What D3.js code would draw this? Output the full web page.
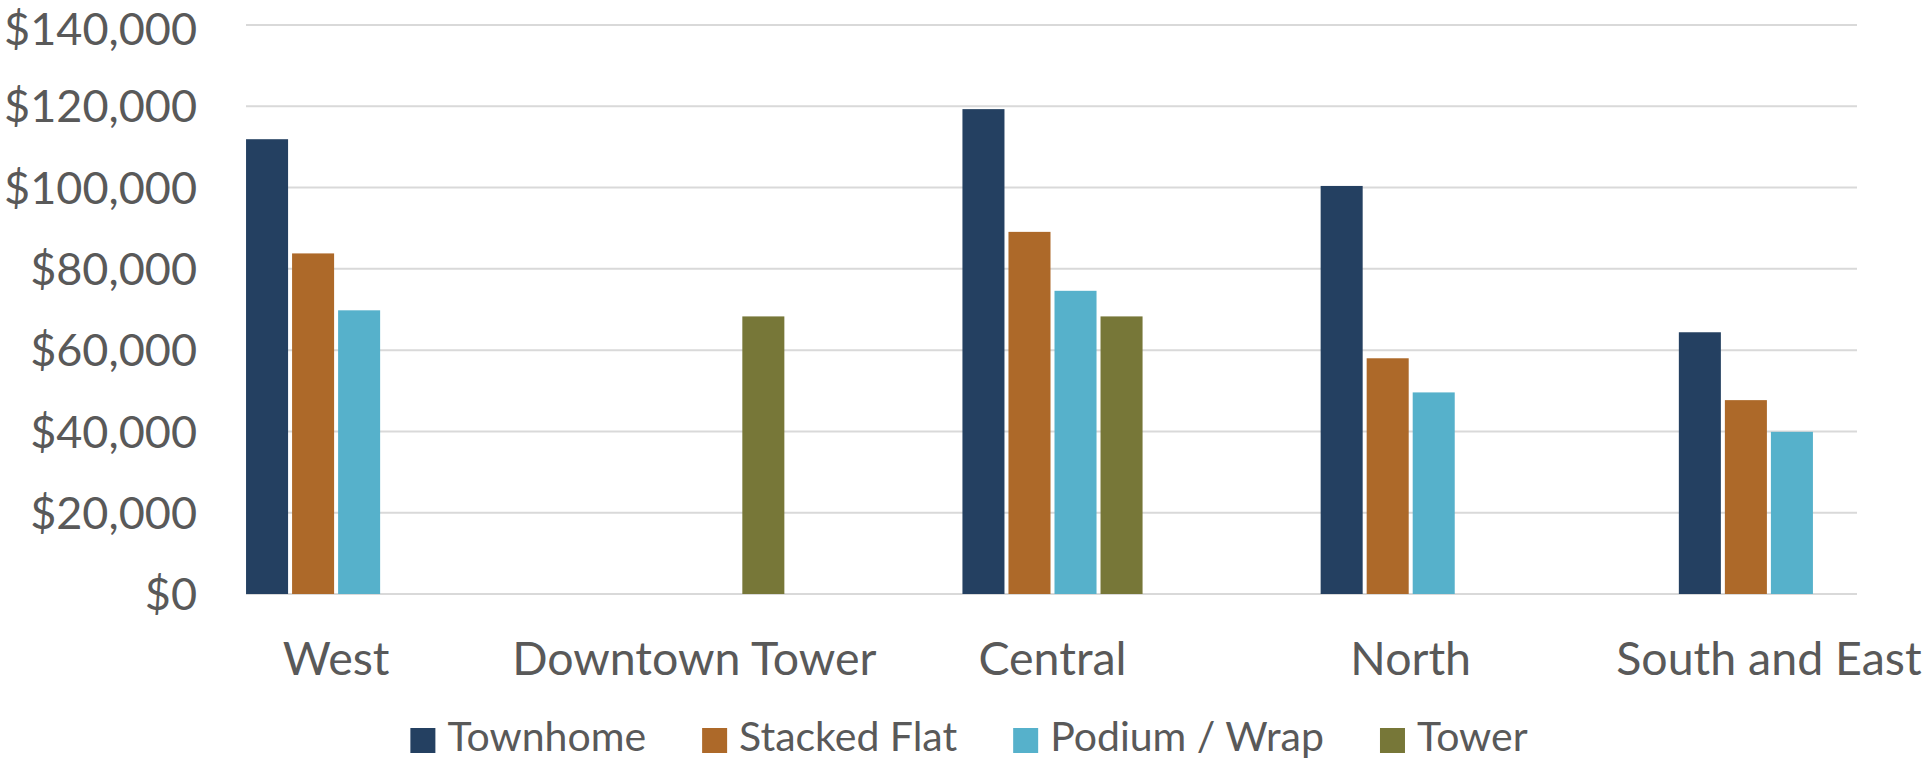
<!DOCTYPE html>
<html>
<head>
<meta charset="utf-8">
<script src="https://cdn.jsdelivr.net/npm/d3@7"></script>
<style>
  html, body { margin: 0; padding: 0; background: #ffffff; }
  svg { display: block; }
  text { font-family: Lato, "Open Sans", sans-serif; fill: #595959; }
</style>
</head>
<body>
<svg id="chart" width="1923" height="760"></svg>
<script>
// Average cost per unit by built form and area
const categories = ["West", "Downtown Tower", "Central", "North", "South and East"];
const seriesNames = ["Townhome", "Stacked Flat", "Podium / Wrap", "Tower"];
const townhome    = [111900, null, 119300, 100400, 64400];
const stackedFlat = [83800,  null, 89100,  58000,  47700];
const podiumWrap  = [69800,  null, 74600,  49600,  39900];
const tower       = [null,   68300, 68300, null,   null];
const yTicks = [0, 20000, 40000, 60000, 80000, 100000, 120000, 140000];
const colors = ["#244061", "#AD6929", "#56B1CB", "#777738"];

const seriesValues = [townhome, stackedFlat, podiumWrap, tower];

const svg = d3.select("#chart");

// plot area (gridline extent) and vertical range
const gridLeft = 246, gridRight = 1857;
const yTop = 25, yBottom = 594;

const y = d3.scaleLinear().domain([0, 140000]).range([yBottom, yTop]);

// category bands are wider than the gridded area
const x = d3.scaleBand()
  .domain(categories)
  .range([159, 1950])
  .paddingInner(0.486)
  .paddingOuter(0.243);

const xs = d3.scaleBand()
  .domain(seriesNames)
  .range([0, x.bandwidth()]);

// gridlines
svg.append("g")
  .selectAll("line")
  .data(yTicks)
  .join("line")
  .attr("x1", gridLeft)
  .attr("x2", gridRight)
  .attr("y1", d => y(d))
  .attr("y2", d => y(d))
  .attr("stroke", "#d9d9d9")
  .attr("stroke-width", 2);

// y-axis labels (the topmost one kept inside the canvas)
const fmt = d3.format("$,");
svg.append("g")
  .selectAll("text")
  .data(yTicks)
  .join("text")
  .attr("x", 197)
  .attr("y", d => Math.max(y(d), 29))
  .attr("dy", "0.36em")
  .attr("text-anchor", "end")
  .style("font-size", "45px")
  .text(d => fmt(d));

// bars
const barData = [];
categories.forEach((c, i) => {
  seriesNames.forEach((s, j) => {
    const v = seriesValues[j][i];
    if (v != null) barData.push({ cat: c, series: s, value: v, color: colors[j] });
  });
});

svg.append("g")
  .selectAll("rect")
  .data(barData)
  .join("rect")
  .attr("x", d => x(d.cat) + xs(d.series))
  .attr("width", xs.bandwidth() - 4)
  .attr("y", d => y(d.value))
  .attr("height", d => y(0) - y(d.value))
  .attr("fill", d => d.color);

// category labels
svg.append("g")
  .selectAll("text")
  .data(categories)
  .join("text")
  .attr("x", d => x(d) + x.bandwidth() / 2 - 2)
  .attr("y", 675)
  .attr("text-anchor", "middle")
  .style("font-size", "46.5px")
  .text(d => d);

// legend
const legend = svg.append("g");
const sw = 25, gapText = 12, gapItem = 56, legendCenter = 969;
const items = seriesNames.map((s, i) => {
  const g = legend.append("g");
  g.append("rect")
    .attr("y", 728)
    .attr("width", sw)
    .attr("height", sw)
    .attr("fill", colors[i]);
  const t = g.append("text")
    .attr("x", sw + gapText)
    .attr("y", 751)
    .style("font-size", "41px")
    .text(s);
  return { g, w: sw + gapText + t.node().getComputedTextLength() };
});
const total = d3.sum(items, d => d.w) + gapItem * (items.length - 1);
let cx = legendCenter - total / 2;
items.forEach(it => {
  it.g.attr("transform", `translate(${cx},0)`);
  cx += it.w + gapItem;
});
</script>
</body>
</html>
